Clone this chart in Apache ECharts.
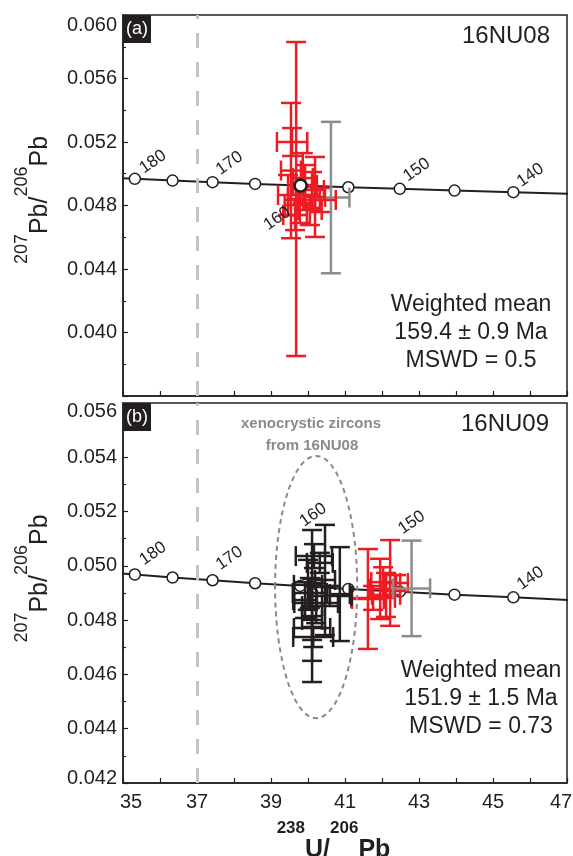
<!DOCTYPE html>
<html><head><meta charset="utf-8">
<script src="https://cdn.jsdelivr.net/npm/echarts@6/dist/echarts.min.js"></script>
<style>html,body{margin:0;padding:0;background:#fff}#c{width:573px;height:856px}</style>
</head><body><div id="c"></div>
<script>
// ---- Concordia reference curve ----
const concordiaAge = [185, 180, 175, 170, 165, 160, 155, 150, 145, 140, 135];
const concordiaX   = [34.35, 35.32, 36.34, 37.42, 38.57, 39.79, 41.09, 42.48, 43.96, 45.55, 47.25];
const concordiaY   = [0.04979, 0.04968, 0.04957, 0.04947, 0.04936, 0.04926, 0.04915, 0.04905, 0.04894, 0.04884, 0.04873];
const labelledAges = [180, 170, 160, 150, 140];

// ---- Tick labels ----
const xTickLabels  = [35, 37, 39, 41, 43, 45, 47];
const yTickLabelsA = [0.040, 0.044, 0.048, 0.052, 0.056, 0.060];
const yTickLabelsB = [0.042, 0.044, 0.046, 0.048, 0.050, 0.052, 0.054, 0.056];
const refLineX = 37;

// ---- Panel (a) 16NU08: [x, y, xErr, yErr] ----
const redA = [
  [39.68, 0.04841, 0.22, 0.00989],
  [39.54, 0.05020, 0.27, 0.00426],
  [39.57, 0.05200, 0.41, 0.00088],
  [40.19, 0.04854, 0.27, 0.00252],
  [39.92, 0.04929, 0.32, 0.00126],
  [39.78, 0.04803, 0.41, 0.00113],
  [40.05, 0.04772, 0.32, 0.00095],
  [39.46, 0.04866, 0.27, 0.00126],
  [40.32, 0.04835, 0.43, 0.00076],
  [39.86, 0.04973, 0.27, 0.00157],
  [39.65, 0.04740, 0.32, 0.00095],
  [40.11, 0.04898, 0.32, 0.00113]
];
const grayA = [[40.62, 0.04850, 0.50, 0.00477]];
const concordiaAgeA = [[39.80, 0.04925]];

// ---- Panel (b) 16NU09 ----
const redB = [
  [41.62, 0.04878, 0.43, 0.00184],
  [42.22, 0.04937, 0.27, 0.00158],
  [42.03, 0.04940, 0.32, 0.00055],
  [42.38, 0.04937, 0.32, 0.00029],
  [41.76, 0.04882, 0.59, 0.00044],
  [42.11, 0.04893, 0.38, 0.00081],
  [41.95, 0.04915, 0.27, 0.00111]
];
const grayB = [[42.80, 0.04917, 0.50, 0.00176]];
const blackB = [
  [40.11, 0.04852, 0.27, 0.00280],
  [40.46, 0.04948, 0.27, 0.00203],
  [40.86, 0.04896, 0.27, 0.00173],
  [40.16, 0.05036, 0.49, 0.00044],
  [40.32, 0.05011, 0.35, 0.00037],
  [40.05, 0.04900, 0.46, 0.00055],
  [40.59, 0.04889, 0.59, 0.00037],
  [40.11, 0.04771, 0.49, 0.00044],
  [40.14, 0.04738, 0.54, 0.00037],
  [40.22, 0.04863, 0.59, 0.00074],
  [40.00, 0.04930, 0.38, 0.00092],
  [40.11, 0.04801, 0.27, 0.00151],
  [39.92, 0.04874, 0.32, 0.00066]
];
// ellipse [cx, cy, rx, ry] in data units
const xenoEllipse = [[40.22, 0.04922, 1.11, 0.00483]];

// ---- styles ----
const FF = '"Liberation Sans", Arial, Helvetica, sans-serif';
const INK = '#231f20';
const RED = '#ed1c24';
const GRAY = '#8c8c8c';
const labelOffsetsA = {180: [18, -17], 170: [17, -19], 160: [-23, 33], 150: [17, -19], 140: [17, -17]};
const labelOffsetsB = {180: [18, -21], 170: [17, -22], 160: [13, -71], 150: [12, -69], 140: [17, -19]};

const concordiaData = concordiaX.map((x, i) => [x, concordiaY[i]]);
const labelData = labelledAges.map(a => { const i = concordiaAge.indexOf(a); return [concordiaX[i], concordiaY[i], a]; });

function crossRender(color) {
  return function (params, api) {
    const x = api.value(0), y = api.value(1), xe = api.value(2), ye = api.value(3);
    const c = api.coord([x, y]);
    const l = api.coord([x - xe, y])[0], r = api.coord([x + xe, y])[0];
    const t = api.coord([x, y + ye])[1], b = api.coord([x, y - ye])[1];
    const cap = 10;
    const mk = (x1, y1, x2, y2) => ({type: 'line', shape: {x1, y1, x2, y2}, style: {stroke: color, lineWidth: 2.5}});
    return {type: 'group', children: [
      mk(l, c[1], r, c[1]), mk(c[0], t, c[0], b),
      mk(l, c[1] - cap, l, c[1] + cap), mk(r, c[1] - cap, r, c[1] + cap),
      mk(c[0] - cap, t, c[0] + cap, t), mk(c[0] - cap, b, c[0] + cap, b)
    ]};
  };
}
function crossSeries(idx, data, color, z) {
  return {type: 'custom', xAxisIndex: idx, yAxisIndex: idx, data: data, renderItem: crossRender(color), z: z, silent: true};
}
function concordiaSeries(idx) {
  return {
    type: 'line', xAxisIndex: idx, yAxisIndex: idx, data: concordiaData,
    symbol: 'circle', symbolSize: 11, showAllSymbol: true, z: 2, silent: true,
    itemStyle: {color: '#fff', borderColor: INK, borderWidth: 1.5, opacity: 1},
    lineStyle: {color: INK, width: 2},
    markLine: {
      silent: true, symbol: ['none', 'none'], label: {show: false},
      lineStyle: {color: '#c4c4c4', width: 3, type: [15, 14]},
      data: [{xAxis: refLineX}]
    }
  };
}
function ageLabelSeries(idx, offsets) {
  return {
    type: 'custom', xAxisIndex: idx, yAxisIndex: idx, data: labelData, z: 6, silent: true,
    renderItem: function (params, api) {
      const c = api.coord([api.value(0), api.value(1)]);
      const age = api.value(2);
      const o = offsets[age];
      return {type: 'text', x: c[0] + o[0], y: c[1] + o[1], rotation: 35 * Math.PI / 180,
        style: {text: String(age), fill: INK, font: '17px ' + FF, fontSize: 17, fontFamily: FF,
          align: 'center', verticalAlign: 'middle', textAlign: 'center', textVerticalAlign: 'middle'}};
    }
  };
}

const lblBase = {fontSize: 20, fontFamily: FF, color: INK};
function xAxisDef(idx, showLabels) {
  const first = xTickLabels[0], last = xTickLabels[xTickLabels.length - 1];
  const d = {
    gridIndex: idx, type: 'value', min: first, max: last, interval: 2,
    axisLine: {show: true, onZero: false, lineStyle: {color: INK, width: 1.5}},
    axisTick: {show: true, inside: true, length: 5, lineStyle: {color: INK, width: 1.2}},
    minorTick: {show: true, splitNumber: 2, length: 5, lineStyle: {color: INK, width: 1.2}},
    splitLine: {show: false}, minorSplitLine: {show: false},
    axisLabel: {show: showLabels, fontSize: 20, fontFamily: FF, color: INK, margin: 9,
      formatter: v => {
        const r = Math.round(v);
        if (xTickLabels.indexOf(r) < 0) return '';
        if (r === first) return '{f|' + r + '}';
        if (r === last) return '{l|' + r + '}';
        return '{n|' + r + '}';
      },
      rich: {
        n: Object.assign({}, lblBase),
        f: Object.assign({padding: [0, 0, 0, 16]}, lblBase),
        l: Object.assign({padding: [0, 12, 0, 0]}, lblBase)
      }}
  };
  if (showLabels) {
    d.name = '{sup|238}{m|U/}{sup|206}{m|Pb}';
    d.nameLocation = 'middle';
    d.nameGap = 37;
    d.nameTextStyle = {padding: [0, 23, 0, 0], rich: {
      sup: {fontSize: 17, fontWeight: 'bold', fontFamily: FF, color: INK, verticalAlign: 'top'},
      m: {fontSize: 25, fontWeight: 'bold', fontFamily: FF, color: INK, lineHeight: 43, verticalAlign: 'bottom'}
    }};
  }
  return d;
}
function yAxisDef(idx, min, max, interval, labels, pad, topPad, botPad) {
  const hi = labels[labels.length - 1], lo = labels[0];
  return {
    gridIndex: idx, type: 'value', min: min, max: max, interval: interval,
    axisLine: {show: true, onZero: false, lineStyle: {color: INK, width: 1.5}},
    axisTick: {show: true, inside: true, length: 5, lineStyle: {color: INK, width: 1.2}},
    minorTick: {show: true, splitNumber: 2, length: 3, lineStyle: {color: INK, width: 1.2}},
    splitLine: {show: false}, minorSplitLine: {show: false},
    axisLabel: {fontSize: 20, fontFamily: FF, color: INK, margin: 6,
      formatter: v => {
        if (!labels.some(t => Math.abs(t - v) < 1e-7)) return '';
        const s = v.toFixed(3);
        if (Math.abs(v - hi) < 1e-7) return '{t|' + s + '}';
        if (Math.abs(v - lo) < 1e-7 && Math.abs(lo - min) < 1e-7) return '{b|' + s + '}';
        return '{n|' + s + '}';
      },
      rich: {
        n: Object.assign({}, lblBase),
        t: Object.assign({padding: [topPad, 0, 0, 0]}, lblBase),
        b: Object.assign({padding: [0, 0, botPad, 0]}, lblBase)
      }},
    name: '{sup|207}{m|Pb/}{sup|206}{m|Pb}',
    nameLocation: 'middle', nameRotate: 90, nameGap: 70,
    nameTextStyle: {padding: [0, 0, 0, pad], rich: {
      sup: {fontSize: 18, fontFamily: FF, color: INK, verticalAlign: 'top'},
      m: {fontSize: 25, fontFamily: FF, color: INK, lineHeight: 40, verticalAlign: 'bottom'}
    }}
  };
}
function txt(x, y, text, size, opts) {
  opts = opts || {};
  const weight = opts.weight || 'normal';
  return {type: 'text', x: x, y: y, z: 100, silent: true, style: {
    text: text, fill: opts.fill || INK, font: weight + ' ' + size + 'px ' + FF,
    fontSize: size, fontFamily: FF, fontWeight: weight,
    align: opts.align || 'center', textAlign: opts.align || 'center',
    verticalAlign: 'middle', textVerticalAlign: 'middle'}};
}

const chart = echarts.init(document.getElementById('c'), null, {renderer: 'canvas'});
chart.setOption({
  animation: false,
  backgroundColor: '#fff',
  grid: [
    {left: 123, top: 15, width: 444, height: 381, show: true, borderColor: INK, borderWidth: 1.5, backgroundColor: 'transparent', outerBoundsMode: 'none', containLabel: false},
    {left: 123, top: 403, width: 444, height: 380, show: true, borderColor: INK, borderWidth: 1.5, backgroundColor: 'transparent', outerBoundsMode: 'none', containLabel: false}
  ],
  xAxis: [xAxisDef(0, false), xAxisDef(1, true)],
  yAxis: [
    yAxisDef(0, 0.036, 0.060, 0.004, yTickLabelsA, 11, 20, 0),
    yAxisDef(1, 0.042, 0.056, 0.002, yTickLabelsB, 29, 16, 9)
  ],
  series: [
    concordiaSeries(0),
    crossSeries(0, grayA, GRAY, 3),
    crossSeries(0, redA, RED, 4),
    {type: 'scatter', xAxisIndex: 0, yAxisIndex: 0, data: concordiaAgeA, symbol: 'circle', symbolSize: 12, z: 7, silent: true,
      itemStyle: {color: '#fff', borderColor: INK, borderWidth: 2.6, opacity: 1}},
    ageLabelSeries(0, labelOffsetsA),

    concordiaSeries(1),
    crossSeries(1, redB, RED, 4),
    crossSeries(1, grayB, GRAY, 4),
    crossSeries(1, blackB, INK, 5),
    {type: 'custom', xAxisIndex: 1, yAxisIndex: 1, data: xenoEllipse, z: 6, silent: true,
      renderItem: function (params, api) {
        const c = api.coord([api.value(0), api.value(1)]);
        const s = api.size([api.value(2), api.value(3)]);
        return {type: 'ellipse', shape: {cx: c[0], cy: c[1], rx: s[0], ry: s[1]},
          style: {fill: null, stroke: '#8a8a8a', lineWidth: 2, lineDash: [5, 4]}};
      }},
    ageLabelSeries(1, labelOffsetsB)
  ],
  graphic: [
    {type: 'rect', shape: {x: 123, y: 15, width: 28, height: 28}, style: {fill: INK}, z: 100, silent: true},
    txt(137, 29, '(a)', 18, {fill: '#fff'}),
    {type: 'rect', shape: {x: 123, y: 403, width: 28, height: 28}, style: {fill: INK}, z: 100, silent: true},
    txt(137, 417, '(b)', 18, {fill: '#fff'}),
    txt(550, 36, '16NU08', 24, {align: 'right'}),
    txt(549, 424, '16NU09', 24, {align: 'right'}),
    txt(471, 305, 'Weighted mean', 23),
    txt(471, 333, '159.4 ± 0.9 Ma', 23),
    txt(471, 361, 'MSWD = 0.5', 23),
    txt(481, 671, 'Weighted mean', 23),
    txt(481, 699, '151.9 ± 1.5 Ma', 23),
    txt(481, 727, 'MSWD = 0.73', 23),
    txt(311, 424, 'xenocrystic zircons', 15, {weight: 'bold', fill: '#8a8a8a'}),
    txt(312, 446, 'from 16NU08', 15, {weight: 'bold', fill: '#8a8a8a'})
  ]
});
</script>
</body></html>
